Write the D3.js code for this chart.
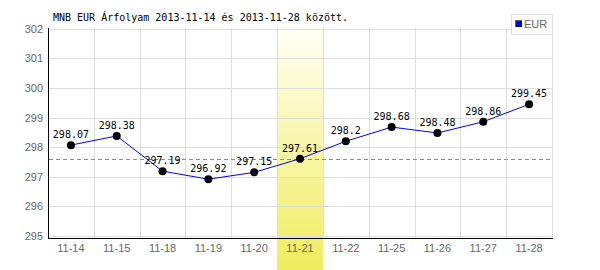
<!DOCTYPE html>
<html><head><meta charset="utf-8">
<script src="https://cdn.jsdelivr.net/npm/d3@7"></script>
<style>body{margin:0;background:#fff}svg{display:block}</style>
</head><body>
<svg id="c" width="600" height="270" shape-rendering="auto"></svg>
<script>
const title = "MNB EUR Árfolyam 2013-11-14 és 2013-11-28 között.";
const categories = ["11-14","11-15","11-18","11-19","11-20","11-21","11-22","11-25","11-26","11-27","11-28"];
const values = [298.07,298.38,297.19,296.92,297.15,297.61,298.2,298.68,298.48,298.86,299.45];
const valueLabels = ["298.07","298.38","297.19","296.92","297.15","297.61","298.2","298.68","298.48","298.86","299.45"];
const yTicks = [295,296,297,298,299,300,301,302];
const highlightCategory = "11-21";
const referenceValue = 297.61;
const seriesName = "EUR";

(function(){
const svg = d3.select("#c");
const pL = 48, pR = 552, pT = 28.8, pB = 236, axisY = 238;
const x = d3.scaleBand().domain(categories).range([pL, pR]);
const y = d3.scaleLinear().domain([295, 302]).range([pB, pT]);

const defs = svg.append("defs");
const g = defs.append("linearGradient").attr("id","hl").attr("x1",0).attr("y1",0).attr("x2",0).attr("y2",1);
g.append("stop").attr("offset","0%").attr("stop-color","#fffff4");
g.append("stop").attr("offset","100%").attr("stop-color","#f0ec5c");

svg.append("rect").attr("x", x(highlightCategory)).attr("y", 28).attr("width", x.bandwidth()).attr("height", 242).attr("fill","url(#hl)");

svg.append("g").attr("shape-rendering","crispEdges").selectAll("line").data(yTicks).join("line")
  .attr("x1", pL).attr("x2", pR).attr("y1", d => Math.round(y(d))+0.5).attr("y2", d => Math.round(y(d))+0.5)
  .attr("stroke","#dddddd").attr("stroke-width",1);
svg.append("g").attr("shape-rendering","crispEdges").selectAll("line").data(categories.slice(1).concat(["__end"])).join("line")
  .attr("x1", d => d==="__end" ? pR+0.5 : Math.round(x(d))+0.5)
  .attr("x2", d => d==="__end" ? pR+0.5 : Math.round(x(d))+0.5)
  .attr("y1", 28).attr("y2", axisY)
  .attr("stroke","#dddddd").attr("stroke-width",1);

svg.append("line").attr("shape-rendering","crispEdges").attr("x1",pL+0.5).attr("x2",pL+0.5).attr("y1",28).attr("y2",axisY+1).attr("stroke","#000").attr("stroke-width",1.2);
svg.append("line").attr("shape-rendering","crispEdges").attr("x1",pL).attr("x2",pR+1).attr("y1",axisY+0.5).attr("y2",axisY+0.5).attr("stroke","#000").attr("stroke-width",1.2);

svg.append("g").selectAll("text").data(yTicks).join("text")
  .attr("x", 43).attr("y", d => y(d)+4).attr("text-anchor","end")
  .attr("font-family","'Liberation Sans', Arial, sans-serif").attr("font-size",11).attr("fill","#666")
  .text(d => d);
svg.append("g").selectAll("text").data(categories).join("text")
  .attr("x", d => x(d)+x.bandwidth()/2).attr("y", 252).attr("text-anchor","middle")
  .attr("font-family","'Liberation Sans', Arial, sans-serif").attr("font-size",11).attr("fill","#666")
  .text(d => d);

svg.append("line").attr("shape-rendering","crispEdges").attr("x1",pL+1).attr("x2",pR).attr("y1",Math.round(y(referenceValue))+0.5).attr("y2",Math.round(y(referenceValue))+0.5)
  .attr("stroke","#7f7fff").attr("stroke-dasharray","4,3");

const pts = categories.map((c,i)=>[x(c)+x.bandwidth()/2, y(values[i])]);
svg.append("path").attr("d", d3.line()(pts)).attr("fill","none").attr("stroke","#0000ff").attr("stroke-width",1);
svg.append("g").selectAll("circle").data(pts).join("circle")
  .attr("cx", d=>d[0]).attr("cy", d=>d[1]).attr("r",4).attr("fill","#000");
svg.append("g").selectAll("text").data(pts).join("text")
  .attr("x", d=>d[0]).attr("y", d=>d[1]-7).attr("text-anchor","middle")
  .attr("font-family","'DejaVu Sans Mono', monospace").attr("font-size",10).attr("fill","#000")
  .text((d,i)=>valueLabels[i]);

svg.append("text").attr("x",53).attr("y",21).attr("font-family","'DejaVu Sans Mono', monospace").attr("font-size",10).attr("fill","#000").text(title);

svg.append("rect").attr("shape-rendering","crispEdges").attr("x",511.5).attr("y",14.5).attr("width",41).attr("height",20).attr("fill","#fff").attr("stroke","#dddddd");
svg.append("rect").attr("shape-rendering","crispEdges").attr("x",515.5).attr("y",20.5).attr("width",6).attr("height",6).attr("fill","#0000ff").attr("stroke","#000").attr("stroke-width",0.6);
svg.append("text").attr("x",524).attr("y",28).attr("font-family","'Liberation Sans', Arial, sans-serif").attr("font-size",11).attr("fill","#666").text(seriesName);
})();
</script>
</body></html>
